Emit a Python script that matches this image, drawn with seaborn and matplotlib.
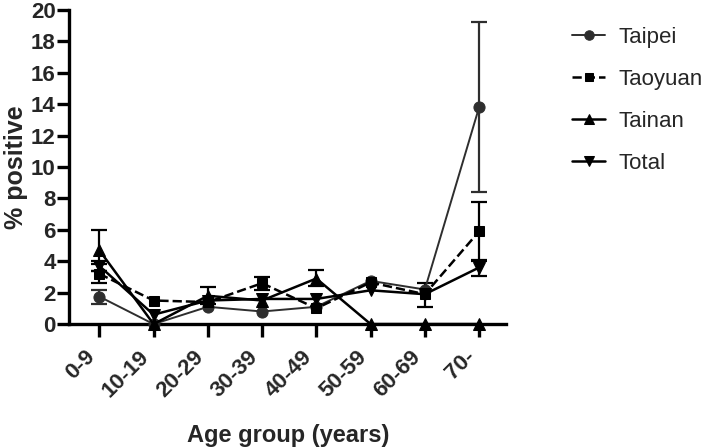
import matplotlib
matplotlib.use("Agg")
import matplotlib.pyplot as plt
import numpy as np
import pandas as pd
import seaborn as sns

age_groups = ["0-9", "10-19", "20-29", "30-39", "40-49", "50-59", "60-69", "70-"]

taipei = [1.75, 0.0, 1.1, 0.8, 1.1, 2.75, 2.2, 13.8]
taipei_lo = [1.3, None, None, None, None, None, None, 8.4]
taipei_hi = [2.2, None, None, None, None, None, None, 19.2]

taoyuan = [3.2, 1.5, 1.4, 2.6, 1.0, 2.65, 1.9, 5.9]
taoyuan_lo = [2.6, None, None, 2.2, None, None, 1.1, 4.0]
taoyuan_hi = [3.8, None, None, 3.0, None, None, 2.6, 7.8]

tainan = [4.7, 0.0, 1.8, 1.5, 2.9, 0.0, 0.0, 0.0]
tainan_lo = [3.4, None, 1.3, None, 2.4, None, None, None]
tainan_hi = [6.0, None, 2.35, None, 3.45, None, None, None]

total = [3.7, 0.6, 1.5, 1.6, 1.6, 2.15, 1.9, 3.6]
total_lo = [3.4, None, None, None, None, None, None, 3.05]
total_hi = [4.0, None, None, None, None, None, None, 4.1]

sns.set_style("ticks")
plt.rcParams["font.family"] = ["Liberation Sans", "DejaVu Sans"]

fig = plt.figure(figsize=(7.09, 4.47), dpi=100)
ax = fig.add_axes([0.098, 0.275, 0.616, 0.703])

series = [
    ("Taipei", taipei, taipei_lo, taipei_hi, "o", "-", "#2e2e2e", 1.4, 8),
    ("Taoyuan", taoyuan, taoyuan_lo, taoyuan_hi, "s", "--", "black", 1.8, 6.5),
    ("Tainan", tainan, tainan_lo, tainan_hi, "^", "-", "black", 1.8, 8),
    ("Total", total, total_lo, total_hi, "v", "-", "black", 1.8, 8),
]

x = np.arange(len(age_groups))
for name, vals, lo, hi, mk, ls, col, lw, ms in series:
    df = pd.DataFrame({"x": x, "y": vals})
    sns.lineplot(data=df, x="x", y="y", ax=ax, color=col, linestyle=ls,
                 linewidth=lw, marker=mk, markersize=ms, markeredgecolor=col,
                 markerfacecolor=col, label=name, zorder=3, clip_on=False)
    idx = [i for i in range(len(vals)) if lo[i] is not None]
    yv = np.array([vals[i] for i in idx])
    err = np.array([[vals[i] - lo[i] for i in idx], [hi[i] - vals[i] for i in idx]])
    ax.errorbar(x[idx], yv, yerr=err, fmt="none", ecolor=col, elinewidth=1.6,
                capsize=6, capthick=1.6, zorder=2)

ax.set_xlim(-0.55, 7.5)
ax.set_ylim(0, 20)
ax.set_yticks(range(0, 21, 2))
ax.set_xticks(x)
ax.set_xticklabels(age_groups, rotation=45, ha="right", va="top",
                   fontsize=16, fontweight="bold")
for t in ax.get_yticklabels():
    t.set_fontsize(16)
    t.set_fontweight("bold")

sns.despine(ax=ax)
for s in ["left", "bottom"]:
    ax.spines[s].set_linewidth(2.4)
    ax.spines[s].set_color("black")
ax.tick_params(axis="both", width=2.4, length=9, color="black", pad=1)
ax.tick_params(axis="x", pad=7)

ax.set_xlabel("Age group (years)", fontsize=17, fontweight="bold", labelpad=16)
ax.set_ylabel("% positive", fontsize=18, fontweight="bold", labelpad=2)

leg = ax.legend(loc="upper left", bbox_to_anchor=(1.13, 0.975), frameon=False,
                fontsize=16, handlelength=1.5, handletextpad=0.6, labelspacing=0.95,
                borderaxespad=0, markerscale=0.85)

fig.savefig("out.png", dpi=100)
